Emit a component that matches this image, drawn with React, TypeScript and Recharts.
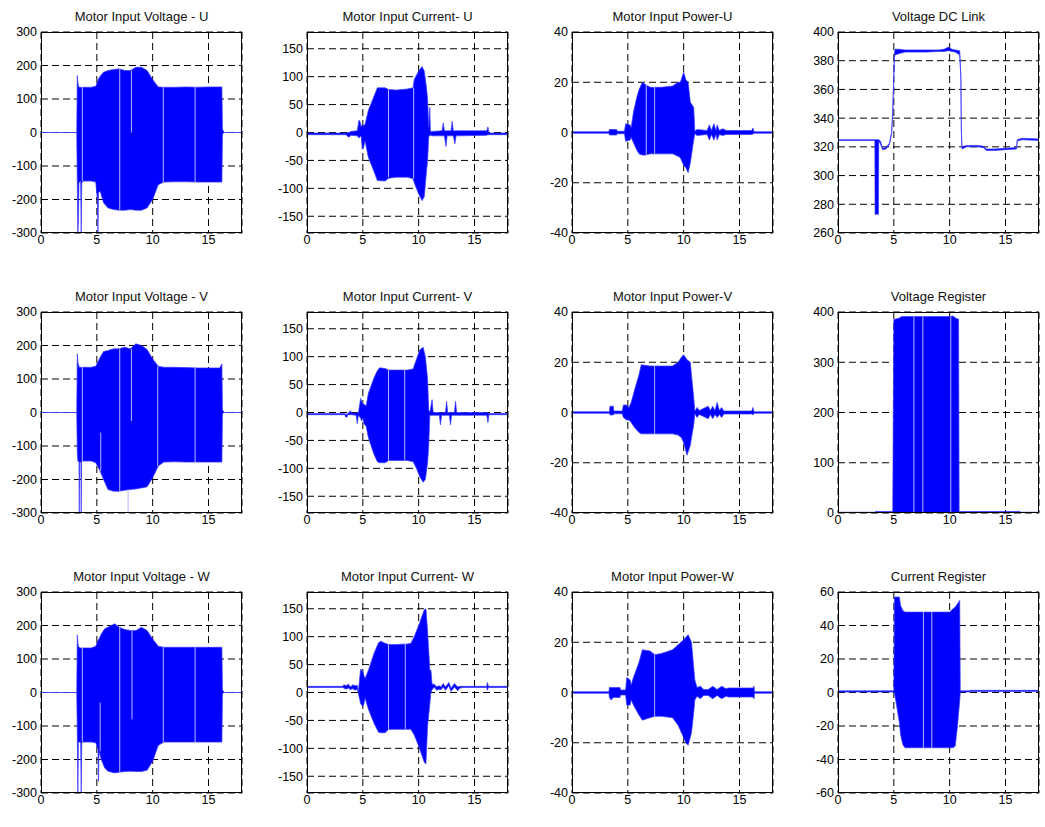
import React from 'react';
import { ComposedChart, Area, XAxis, YAxis, CartesianGrid, ReferenceLine } from 'recharts';

// time axis (s)
const X_TICKS = [0, 5, 10, 15];

// Motor Input Voltage - U
const vuT  = [0, 3.2, 3.25, 3.3, 3.35, 3.4, 3.55, 3.6, 3.65, 3.8, 4.5, 4.9, 5.05, 5.1, 5.15, 5.3, 5.6, 6.0, 6.5, 7.0, 7.5, 8.0, 8.5, 9.0, 9.5, 10.0, 10.5, 11.0, 12, 13, 14, 15, 16.2, 16.25, 16.4, 18];
const vuHi = [0, 0, 170, 150, 140, 135, 135, 135, 135, 135, 135, 138, 150, 155, 160, 168, 180, 185, 188, 190, 185, 185, 195, 195, 185, 158, 136, 135, 135, 136, 135, 136, 136, 10, 0, 0];
const vuLo = [0, 0, -150, -300, -260, -150, -145, -300, -150, -145, -145, -148, -200, -300, -180, -175, -210, -225, -230, -232, -232, -230, -232, -232, -225, -200, -156, -148, -147, -147, -148, -148, -148, -5, 0, 0];
const vuGaps = [[3.7, -145, 135], [7.05, -232, 190], [8.1, 0, 185], [10.95, -148, 135], [13.8, -148, 135]];

// Motor Input Current- U
const cuT  = [0, 3.5, 3.7, 3.8, 3.9, 4.5, 4.65, 4.75, 4.85, 4.95, 5.05, 5.2, 5.5, 6.0, 6.3, 7.0, 7.3, 8.0, 9.0, 9.5, 9.6, 10.0, 10.3, 10.5, 10.7, 10.8, 10.9, 11.0, 11.05, 11.2, 12.1, 12.2, 12.3, 12.45, 12.55, 12.9, 13.0, 13.1, 13.25, 13.35, 13.45, 16.1, 16.2, 16.3, 18];
const cuHi = [-1, -1, 0, 0, 2, 3, 22, 20, 10, 15, 12, 15, 40, 65, 80, 80, 77, 76, 78, 80, 95, 110, 118, 110, 80, 60, 10, 45, 2, 2, 3, 17, 3, 3, 3, 3, 20, 3, 3, 3, 3, 3, 10, -1, -1];
const cuLo = [-4, -4, -8, -8, -5, -6, -10, -8, -6, -30, -28, -15, -45, -70, -86, -87, -82, -80, -80, -83, -90, -110, -122, -115, -70, -50, -8, -5, -5, -6, -6, -6, -6, -25, -6, -6, -6, -6, -20, -6, -6, -5, -4, -4, -4];
const cuGaps = [[7.3, -80, 77], [9.55, -83, 80]];

// Motor Input Power-U
const puT  = [0, 3.3, 3.35, 4.0, 4.05, 4.7, 4.8, 5.2, 5.3, 5.5, 5.8, 6.0, 6.3, 6.6, 7.0, 8.0, 9.0, 9.5, 9.7, 10.0, 10.2, 10.4, 10.6, 10.9, 11.0, 11.2, 12.1, 12.3, 12.5, 12.7, 12.9, 13.0, 13.2, 13.5, 13.8, 16.1, 16.2, 16.3, 18];
const puHi = [0.3, 0.3, 1.2, 1.2, 0.5, 0.5, 3.5, 3, 2, 8, 14, 17, 20, 19, 18, 18, 18.5, 20, 20, 24, 21, 20, 12, 10, 0.5, 1.2, 0.8, 3, 0.8, 3.5, 0.8, 3, 0.8, 1.5, 0.8, 0.8, 1.8, 0.3, 0.3];
const puLo = [-0.3, -0.3, -1, -1, -0.5, -0.5, -3.5, -3, -2, -4, -7, -8.5, -9, -9, -8.5, -8.5, -8.5, -9.5, -10, -13, -14, -16, -12, -3, -0.5, -1.2, -0.8, -3, -0.8, -3, -0.8, -3, -0.8, -1.2, -0.8, -0.8, -0.6, -0.3, -0.3];
const puGaps = [[6.65, -9, 19], [7.4, -8.5, 18]];

// Voltage DC Link
const dcT  = [0, 3.3, 3.32, 3.62, 3.65, 3.8, 4.0, 4.3, 4.6, 4.8, 4.9, 5.0, 5.05, 5.1, 5.5, 6.0, 7.0, 8.0, 9.0, 9.5, 9.9, 10.2, 10.5, 10.9, 11.0, 11.05, 11.1, 11.5, 12.5, 13.0, 13.3, 14.0, 15.0, 16.0, 16.05, 16.5, 18];
const dcHi = [325, 325, 325, 325, 325, 324, 319, 319.5, 322.5, 330, 345, 370, 384, 388, 388, 387.5, 387.5, 387.5, 387.5, 388, 389.5, 388, 387.5, 387, 370, 331, 320, 321, 321, 320.5, 318.5, 318.5, 319, 319.5, 325, 326, 325.5];
const dcLo = [324.5, 324.5, 273, 273, 324, 322, 318, 318.5, 321.5, 329, 343, 368, 382, 384, 385, 386, 386, 386, 386.5, 386.5, 387, 386.5, 386, 384, 368, 329, 318.5, 320, 320, 319.5, 317.5, 317.5, 318, 318.5, 324, 325, 324.5];

// Motor Input Voltage - V
const vvT  = [0, 3.2, 3.25, 3.3, 3.4, 3.43, 3.46, 3.57, 3.6, 3.63, 3.8, 4.5, 4.9, 5.3, 5.6, 6.0, 6.5, 7.0, 7.5, 8.0, 8.5, 9.0, 9.5, 10.0, 10.5, 11.0, 12, 13, 14, 15, 16.0, 16.2, 16.25, 16.4, 18];
const vvHi = [0, 0, 175, 150, 138, 135, 135, 135, 135, 135, 135, 135, 138, 165, 182, 185, 190, 190, 195, 190, 205, 200, 188, 160, 138, 135, 135, 134, 133, 133, 133, 145, 8, 0, 0];
const vvLo = [0, 0, -120, -145, -148, -300, -148, -148, -300, -148, -145, -145, -150, -175, -200, -230, -235, -235, -232, -230, -228, -225, -222, -195, -160, -148, -147, -148, -148, -148, -148, -148, -3, 0, 0];
const vvGaps = [[3.7, -148, 135], [5.35, -175, -60], [7.05, -235, 190], [7.8, -300, -230], [8.1, -25, 190], [10.45, -160, 138], [13.8, -148, 133]];

// Motor Input Current- V
const cvT  = [0, 3.4, 3.45, 3.6, 3.65, 3.9, 4.0, 4.4, 4.5, 4.6, 4.8, 4.9, 5.0, 5.1, 5.3, 5.5, 6.0, 6.3, 6.5, 7.0, 7.3, 8.0, 9.0, 9.5, 9.8, 10.1, 10.4, 10.6, 10.8, 10.9, 11.0, 11.2, 11.3, 11.85, 11.95, 12.05, 12.4, 12.5, 12.6, 12.75, 12.85, 12.95, 13.2, 13.3, 13.4, 16.1, 16.2, 16.3, 18];
const cvHi = [-2, -2, -3, -3, -2, 3, -1, -1, -1, -1, 25, 20, 15, 15, 12, 35, 62, 75, 80, 79, 76, 76, 76, 78, 95, 112, 117, 100, 60, 5, 0, 23, 0, 0, 0, 0, 0, 20, 0, 0, 0, 0, 0, 20, 0, 0, 0, -2, -2];
const cvLo = [-4, -4, -8, -8, -4, -4, -4, -5, -20, -5, -10, -15, -10, -20, -25, -45, -75, -88, -90, -90, -86, -86, -86, -88, -100, -115, -125, -120, -90, -60, -5, -5, -5, -5, -22, -5, -5, -5, -5, -5, -22, -5, -5, -5, -5, -5, -18, -4, -4];
const cvGaps = [[7.3, -86, 76], [8.75, -86, 76]];

// Motor Input Power-V
const pvT  = [0, 3.35, 3.4, 3.7, 3.75, 4.5, 4.6, 4.9, 5.1, 5.3, 5.6, 6.0, 6.2, 7.0, 8.0, 9.0, 9.5, 9.8, 10.0, 10.3, 10.6, 10.7, 10.9, 11.0, 11.2, 11.4, 12.2, 12.4, 12.6, 12.8, 13.0, 13.2, 13.4, 13.6, 16.1, 16.2, 16.3, 18];
const pvHi = [0.3, 0.3, 2.5, 2.5, 0.6, 0.6, 3, 3, 2, 4, 9, 15, 19, 18.5, 18.5, 18.5, 20, 22, 23, 21, 20, 15, 6, 0.5, 2, 0.8, 2.5, 0.8, 2.5, 0.8, 4, 0.8, 2, 0.6, 0.6, 2, 0.3, 0.3];
const pvLo = [-0.3, -0.3, -1, -1, -0.5, -0.5, -2, -3, -3, -4, -6, -8, -8.5, -8.5, -8.5, -8.5, -9, -10, -12, -17, -13, -10, -5, -0.5, -2, -0.8, -2.5, -0.8, -2.5, -0.8, -2, -0.8, -2, -0.6, -0.6, -1, -0.3, -0.3];
const pvGaps = [[7.4, -8.5, 18.5]];

// Voltage Register
const vrT  = [0, 3.3, 3.35, 4.9, 5.0, 5.5, 5.7, 8.0, 10.0, 10.3, 10.6, 10.8, 10.85, 16.3, 16.35, 18];
const vrHi = [1.5, 1.5, 3, 3, 385, 388, 391, 391, 391, 392, 387, 386, 3, 3, 1.5, 1.5];
const vrLo = [0, 0, 0, 0, 0, 0, 0, 0, 0, 0, 0, 0, 0, 0, 0, 0];
const vrGaps = [[6.8, 0, 391], [7.6, 0, 391], [10.1, 0, 391]];

// Motor Input Voltage - W
const vwT  = [0, 3.2, 3.25, 3.3, 3.35, 3.4, 3.55, 3.6, 3.65, 3.8, 4.5, 4.9, 5.1, 5.15, 5.2, 5.4, 5.7, 6.0, 6.6, 7.0, 7.5, 8.0, 8.5, 9.0, 9.5, 10.0, 10.5, 11.0, 12, 13, 14, 15, 16.2, 16.25, 16.4, 18];
const vwHi = [0, 0, 172, 150, 138, 135, 133, 133, 133, 133, 133, 138, 155, 158, 160, 175, 190, 195, 205, 195, 188, 185, 185, 195, 185, 160, 138, 135, 135, 135, 135, 135, 135, 8, 0, 0];
const vwLo = [0, 0, -120, -300, -150, -148, -148, -300, -150, -148, -148, -150, -170, -265, -175, -200, -225, -235, -240, -238, -236, -235, -236, -236, -232, -205, -158, -148, -148, -148, -148, -148, -148, -3, 0, 0];
const vwGaps = [[3.7, -148, 133], [5.3, -175, -30], [7.05, -238, 195], [8.15, -80, 185], [10.95, -148, 135], [13.8, -148, 135]];

// Motor Input Current- W
const cwT  = [0, 3.2, 3.3, 3.5, 3.7, 3.9, 4.1, 4.3, 4.5, 4.6, 4.8, 5.0, 5.1, 5.2, 5.5, 6.0, 6.4, 6.6, 7.0, 7.3, 8.0, 9.0, 9.3, 9.6, 10.0, 10.5, 10.65, 10.8, 11.0, 11.1, 11.2, 11.4, 11.6, 11.8, 12.0, 12.2, 12.4, 12.7, 12.9, 13.2, 13.5, 13.7, 14.0, 16.1, 16.15, 16.25, 18];
const cwHi = [11, 11, 14, 12, 15, 10, 14, 12, 13, 2, 42, 38, 30, 25, 40, 70, 89, 92, 88, 86, 86, 87, 88, 100, 120, 148, 150, 110, 40, 40, 15, 15, 10, 12, 10, 16, 10, 18, 8, 16, 10, 11, 11, 11, 18, 11, 11];
const cwLo = [9, 9, 8, 6, 8, 5, 7, 4, 6, -2, -20, -25, -20, -10, -30, -55, -71, -72, -72, -66, -66, -66, -66, -76, -96, -125, -128, -60, -20, 0, 5, 10, 4, 6, 5, 10, 4, 12, 2, 10, 3, 8, 9, 9, 4, 9, 9];
const cwGaps = [[7.3, -66, 86], [8.8, -66, 87]];

// Motor Input Power-W
const pwT  = [0, 3.3, 3.35, 3.5, 3.7, 4.3, 4.35, 4.8, 4.9, 5.2, 5.3, 5.5, 6.0, 6.3, 7.0, 7.4, 8.0, 9.0, 9.5, 10.0, 10.2, 10.4, 10.7, 10.9, 11.0, 11.2, 11.5, 11.8, 12.2, 12.6, 13.0, 13.4, 13.8, 14.0, 16.2, 16.3, 16.35, 18];
const pwHi = [0.3, 0.3, 2, 2, 2, 2, 1, 1, 6, 5, 3, 6, 12, 17, 16.5, 15, 15.5, 17, 19, 21, 22, 23, 20, 10, 5, 2, 2.5, 1.2, 1.2, 2.5, 1.2, 2.5, 1.5, 1.8, 1.8, 2.5, 0.3, 0.3];
const pwLo = [-0.3, -0.3, -2, -3, -2, -2, -1, -1, -5, -5, -3, -5, -9, -11, -10, -9.5, -9.5, -10, -13, -18, -20, -21, -16, -8, -3, -1.5, -2.5, -1.2, -1.2, -2.5, -1.2, -2.5, -1.5, -1.8, -1.8, -2.5, -0.3, -0.3];
const pwGaps = [[7.4, -9.5, 15]];

// Current Register
const crT  = [0, 5.0, 5.05, 5.5, 5.6, 5.8, 6.0, 8.0, 10.0, 10.3, 10.5, 10.7, 10.9, 10.95, 11.8, 11.85, 18];
const crHi = [1, 1, 57, 57, 52, 49, 48, 48, 48, 50, 51, 53, 55, 1, 1, 1.3, 1.3];
const crLo = [0.3, 0.3, 0, -18, -25, -31, -33, -33, -33, -33, -32, -20, -5, 0.3, 0.3, 0.6, 0.6];
const crGaps = [[7.65, -33, 48], [8.4, -33, 48]];

const COL_X = [41, 307, 572, 838];
const ROW_Y = [32, 312, 592];
const PLOT_W = 201;
const PLOT_H = 201;
const Y_AXIS_W = 40;
const X_AXIS_H = 23;
const FONT = '"Liberation Sans", Arial, Helvetica, sans-serif';

const panels = [
  { title: 'Motor Input Voltage - U', t: vuT, hi: vuHi, lo: vuLo, gaps: vuGaps, domain: [-300, 300], ticks: [-300, -200, -100, 0, 100, 200, 300], col: 0, row: 0 },
  { title: 'Motor Input Current- U', t: cuT, hi: cuHi, lo: cuLo, gaps: cuGaps, domain: [-180, 180], ticks: [-150, -100, -50, 0, 50, 100, 150], col: 1, row: 0 },
  { title: 'Motor Input Power-U', t: puT, hi: puHi, lo: puLo, gaps: puGaps, domain: [-40, 40], ticks: [-40, -20, 0, 20, 40], col: 2, row: 0 },
  { title: 'Voltage DC Link', t: dcT, hi: dcHi, lo: dcLo, gaps: [], domain: [260, 400], ticks: [260, 280, 300, 320, 340, 360, 380, 400], col: 3, row: 0 },
  { title: 'Motor Input Voltage - V', t: vvT, hi: vvHi, lo: vvLo, gaps: vvGaps, domain: [-300, 300], ticks: [-300, -200, -100, 0, 100, 200, 300], col: 0, row: 1 },
  { title: 'Motor Input Current- V', t: cvT, hi: cvHi, lo: cvLo, gaps: cvGaps, domain: [-180, 180], ticks: [-150, -100, -50, 0, 50, 100, 150], col: 1, row: 1 },
  { title: 'Motor Input Power-V', t: pvT, hi: pvHi, lo: pvLo, gaps: pvGaps, domain: [-40, 40], ticks: [-40, -20, 0, 20, 40], col: 2, row: 1 },
  { title: 'Voltage Register', t: vrT, hi: vrHi, lo: vrLo, gaps: vrGaps, domain: [0, 400], ticks: [0, 100, 200, 300, 400], col: 3, row: 1 },
  { title: 'Motor Input Voltage - W', t: vwT, hi: vwHi, lo: vwLo, gaps: vwGaps, domain: [-300, 300], ticks: [-300, -200, -100, 0, 100, 200, 300], col: 0, row: 2 },
  { title: 'Motor Input Current- W', t: cwT, hi: cwHi, lo: cwLo, gaps: cwGaps, domain: [-180, 180], ticks: [-150, -100, -50, 0, 50, 100, 150], col: 1, row: 2 },
  { title: 'Motor Input Power-W', t: pwT, hi: pwHi, lo: pwLo, gaps: pwGaps, domain: [-40, 40], ticks: [-40, -20, 0, 20, 40], col: 2, row: 2 },
  { title: 'Current Register', t: crT, hi: crHi, lo: crLo, gaps: crGaps, domain: [-60, 60], ticks: [-60, -40, -20, 0, 20, 40, 60], col: 3, row: 2 },
];

const tickStyle = { fill: '#000', fontSize: 12.5, fontFamily: FONT };

function Panel({ p }: { p: any }) {
  const left = COL_X[p.col];
  const top = ROW_Y[p.row];
  // envelope of the sampled signal: [min, max] at each time
  const data = p.t.map((x: number, i: number) => ({ t: x, band: [p.lo[i], p.hi[i]] }));

  return (
    <>
      <div style={{
        position: 'absolute', left, top: top - 22, width: PLOT_W, textAlign: 'center',
        fontFamily: FONT, fontSize: 13, lineHeight: '14px', color: '#111', whiteSpace: 'nowrap'
      }}>
        {p.title}
      </div>
      <div style={{ position: 'absolute', left: left - Y_AXIS_W, top: top - 32 }}>
        <ComposedChart
          width={Y_AXIS_W + PLOT_W + 9}
          height={32 + PLOT_H + X_AXIS_H}
          data={data}
          margin={{ top: 32, right: 9, bottom: 0, left: 0 }}
        >
          <CartesianGrid stroke="#000" strokeDasharray="7 4" strokeWidth={1} />
          <XAxis
            dataKey="t" type="number" domain={[0, 18]} ticks={X_TICKS} interval={0}
            allowDataOverflow height={X_AXIS_H} axisLine={false} tickLine={false}
            tickSize={0} tickMargin={2} tick={tickStyle}
          />
          <YAxis
            type="number" domain={p.domain} ticks={p.ticks} interval={0}
            allowDataOverflow width={Y_AXIS_W} axisLine={false} tickLine={false}
            tickSize={0} tickMargin={4} tick={tickStyle}
          />
          <Area
            type="linear" dataKey="band" stroke="#3a3aff" strokeWidth={0.7}
            fill="#0000ff" fillOpacity={1} dot={false} activeDot={false}
            isAnimationActive={false}
          />
          {p.gaps.map((g: number[], i: number) => (
            <ReferenceLine
              key={i}
              segment={[{ x: g[0], y: g[1] }, { x: g[0], y: g[2] }]}
              stroke="#b4b4ff" strokeWidth={1} ifOverflow="hidden"
            />
          ))}
        </ComposedChart>
      </div>
      <div style={{
        position: 'absolute', left, top, width: PLOT_W, height: PLOT_H,
        border: '1px solid #000', boxSizing: 'border-box', pointerEvents: 'none'
      }} />
    </>
  );
}

export default function App() {
  return (
    <div style={{ position: 'absolute', left: 0, top: 0, width: 1045, height: 827, background: '#fff' }}>
      {panels.map((p) => (
        <Panel key={p.title} p={p} />
      ))}
    </div>
  );
}
